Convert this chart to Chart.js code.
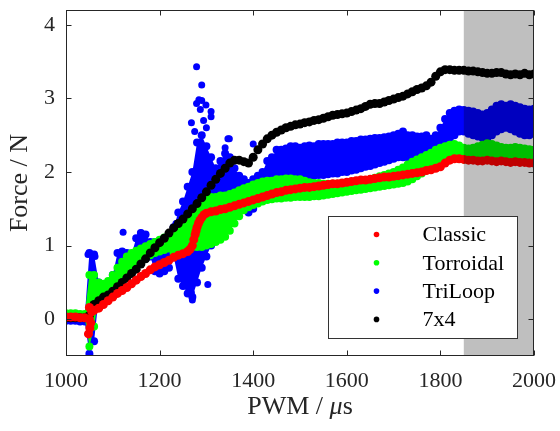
<!DOCTYPE html>
<html>
<head>
<meta charset="utf-8">
<script src="https://cdn.jsdelivr.net/npm/chart.js"></script>
<style>
  body { margin: 0; background: #fff; }
  canvas { display: block; }
</style>
</head>
<body>
<canvas id="forceChart" width="560" height="431"></canvas>
<script>
// PWM sample positions (µs)
const pwm = [
  1000,1010,1020,1030,1040,1050,1060,1070,1080,1090,
  1100,1110,1120,1130,1140,1150,1160,1170,1180,1190,
  1200,1210,1220,1230,1240,1250,1260,1270,1280,1290,
  1300,1310,1320,1330,1340,1350,1360,1370,1380,1390,
  1400,1410,1420,1430,1440,1450,1460,1470,1480,1490,
  1500,1510,1520,1530,1540,1550,1560,1570,1580,1590,
  1600,1610,1620,1630,1640,1650,1660,1670,1680,1690,
  1700,1710,1720,1730,1740,1750,1760,1770,1780,1790,
  1800,1810,1820,1830,1840,1850,1860,1870,1880,1890,
  1900,1910,1920,1930,1940,1950,1960,1970,1980,1990,
  2000
];

const classic = [
  0.03,0.03,0.03,0.02,0.02,0.00,0.12,0.15,0.20,0.25,
  0.30,0.35,0.39,0.43,0.48,0.53,0.58,0.62,0.67,0.71,
  0.74,0.77,0.80,0.84,0.87,0.89,0.92,1.00,1.25,1.38,
  1.44,1.46,1.47,1.49,1.50,1.52,1.54,1.56,1.58,1.60,
  1.62,1.64,1.66,1.68,1.70,1.72,1.73,1.75,1.76,1.77,
  1.78,1.79,1.79,1.80,1.81,1.82,1.83,1.84,1.84,1.85,
  1.86,1.87,1.88,1.89,1.89,1.90,1.91,1.92,1.93,1.93,
  1.94,1.95,1.96,1.97,1.98,1.99,2.00,2.02,2.03,2.05,
  2.07,2.12,2.16,2.18,2.18,2.17,2.16,2.16,2.15,2.15,
  2.16,2.15,2.14,2.15,2.14,2.13,2.14,2.13,2.13,2.12,
  2.12
];
const classicExtra = [
  [1048,-0.2],[1051,-0.12],[1050,0.16],[1055,0.1],[1053,-0.05],
  [1265,0.95],[1273,1.08],[1276,1.15],[1278,1.2],[1283,1.3],[1286,1.34],[1295,1.42]
];

const sevenByFour = [
  0.02,0.02,0.02,0.02,0.02,0.05,0.20,0.25,0.30,0.33,
  0.38,0.44,0.50,0.56,0.62,0.68,0.75,0.82,0.90,0.97,
  1.04,1.10,1.17,1.24,1.30,1.36,1.43,1.50,1.57,1.65,
  1.73,1.82,1.90,1.98,2.05,2.12,2.16,2.16,2.14,2.12,
  2.20,2.30,2.38,2.45,2.50,2.54,2.57,2.60,2.62,2.64,
  2.65,2.67,2.68,2.70,2.71,2.73,2.75,2.77,2.78,2.79,
  2.80,2.82,2.84,2.86,2.89,2.92,2.93,2.93,2.95,2.97,
  2.99,3.01,3.03,3.06,3.09,3.12,3.14,3.17,3.22,3.30,
  3.36,3.39,3.39,3.38,3.38,3.38,3.37,3.37,3.36,3.35,
  3.34,3.34,3.35,3.35,3.33,3.32,3.33,3.32,3.34,3.32,
  3.33
];

const torroidalLow = [
  0.02,0.02,0.02,0.02,0.02,-0.37,-0.10,0.30,0.35,0.40,
  0.45,0.52,0.60,0.66,0.72,0.77,0.80,0.84,0.87,0.90,
  0.92,0.94,0.96,0.90,0.90,0.92,0.95,0.98,0.98,0.98,
  1.00,1.02,1.05,1.08,1.12,1.20,1.30,1.40,1.48,1.52,
  1.55,1.57,1.60,1.62,1.63,1.64,1.64,1.65,1.65,1.66,
  1.66,1.66,1.66,1.67,1.67,1.68,1.69,1.70,1.71,1.72,
  1.73,1.74,1.75,1.76,1.77,1.78,1.79,1.80,1.81,1.82,
  1.83,1.84,1.85,1.87,1.90,1.94,1.98,2.02,2.06,2.10,
  2.14,2.17,2.20,2.20,2.18,2.17,2.19,2.20,2.21,2.22,
  2.23,2.22,2.21,2.20,2.20,2.19,2.20,2.19,2.19,2.18,
  2.18
];
const torroidalHigh = [
  0.08,0.08,0.08,0.07,0.07,0.60,0.60,0.50,0.48,0.52,
  0.60,0.70,0.78,0.85,0.90,0.93,0.96,0.99,1.02,1.05,
  1.08,1.11,1.15,1.20,1.26,1.30,1.35,1.45,1.55,1.62,
  1.65,1.66,1.66,1.68,1.68,1.70,1.72,1.75,1.78,1.80,
  1.83,1.85,1.87,1.88,1.88,1.90,1.90,1.91,1.91,1.90,
  1.90,1.88,1.86,1.85,1.85,1.84,1.84,1.84,1.84,1.85,
  1.85,1.86,1.87,1.88,1.89,1.90,1.92,1.94,1.96,1.98,
  2.00,2.03,2.06,2.10,2.14,2.17,2.20,2.23,2.26,2.30,
  2.33,2.35,2.37,2.38,2.36,2.33,2.32,2.33,2.35,2.37,
  2.39,2.38,2.36,2.34,2.33,2.33,2.34,2.33,2.32,2.31,
  2.30
];

const triLoopLow = [
  -0.02,-0.02,-0.02,-0.03,-0.03,-0.47,-0.30,0.30,0.30,0.35,
  0.40,0.50,0.55,0.60,0.62,0.75,0.78,0.82,0.85,0.65,
  0.62,0.65,0.70,0.85,0.55,0.45,0.35,0.30,0.50,0.70,
  0.85,1.00,1.10,1.20,1.35,1.50,1.55,1.50,1.50,1.45,
  1.50,1.60,1.75,1.85,1.90,1.90,1.92,1.92,1.93,1.93,
  1.94,1.95,1.95,1.95,1.96,1.96,1.97,1.98,1.98,2.00,
  2.00,2.02,2.03,2.05,2.07,2.08,2.10,2.12,2.14,2.16,
  2.18,2.20,2.20,2.20,2.20,2.22,2.24,2.25,2.20,2.22,
  2.35,2.40,2.45,2.50,2.55,2.55,2.52,2.50,2.48,2.46,
  2.45,2.50,2.55,2.58,2.60,2.58,2.55,2.52,2.50,2.50,
  2.52
];
const triLoopHigh = [
  0.04,0.04,0.04,0.03,0.03,0.90,0.88,0.50,0.45,0.50,
  0.60,0.90,0.92,0.90,0.88,1.10,1.17,1.15,1.05,1.05,
  1.05,1.10,1.15,1.25,1.45,1.60,1.80,2.00,2.40,2.50,
  2.35,2.20,2.05,2.15,2.25,2.20,2.05,1.95,1.90,1.85,
  1.90,1.95,2.00,2.15,2.20,2.30,2.30,2.32,2.35,2.35,
  2.33,2.35,2.36,2.35,2.38,2.38,2.38,2.38,2.40,2.40,
  2.40,2.42,2.42,2.44,2.44,2.45,2.46,2.46,2.47,2.48,
  2.50,2.52,2.55,2.50,2.50,2.48,2.48,2.50,2.45,2.50,
  2.60,2.72,2.80,2.83,2.85,2.84,2.83,2.82,2.80,2.78,
  2.80,2.85,2.90,2.92,2.90,2.92,2.90,2.88,2.86,2.85,
  2.86
];
// scattered TriLoop readings outside the main band
const triLoopScatter = [
  [1279,3.43],[1290,3.18],[1279,2.93],[1284,2.98],[1290,2.97],[1299,2.91],
  [1310,2.82],[1268,2.67],[1310,2.75],[1287,2.85],[1294,2.70],[1275,2.55],
  [1300,2.60],[1349,2.45],[1340,2.33],[1346,2.45],[1400,2.38],[1270,0.26],
  [1268,0.36],[1250,0.70],[1260,0.47],[1303,0.47],[1047,0.88],[1062,0.85],
  [1160,1.17],[1168,1.13],[1122,1.18],[1235,1.3]
];

const seriesNames = ['Classic', 'Torroidal', 'TriLoop', '7x4'];
const seriesColors = ['#ff0000', '#00ff00', '#0000ff', '#000000'];
const xTicks = [1000, 1200, 1400, 1600, 1800, 2000];
const yTicks = [0, 1, 2, 3, 4];
const shadedRange = [1850, 2000];

const serif = "'Liberation Serif', 'Times New Roman', serif";
const ink = '#262626';

function pts(xs, ys) {
  return xs.map((x, i) => ({ x: x, y: ys[i] }));
}
function pairs(list) {
  return list.map(p => ({ x: p[0], y: p[1] }));
}
function dots(label, data, color, r, order) {
  return { label: label, data: data, showLine: false, pointRadius: r, pointBorderWidth: 0,
           backgroundColor: color, borderColor: color, order: order };
}
function band(label, data, color, r, order) {
  const d = dots(label, data, color, r, order);
  d.showLine = true;
  d.borderWidth = 0;
  d.fill = '-1';
  return d;
}

const chartDecor = {
  id: 'chartDecor',
  afterDatasetsDraw(chart) {
    const { ctx, chartArea: a, scales: { x, y } } = chart;
    ctx.save();

    // shaded band on top of the data
    const s0 = x.getPixelForValue(shadedRange[0]);
    const s1 = x.getPixelForValue(shadedRange[1]);
    ctx.fillStyle = 'rgba(0,0,0,0.25)';
    ctx.fillRect(s0, a.top, s1 - s0, a.bottom - a.top);

    // box + inward ticks
    ctx.strokeStyle = ink;
    ctx.lineWidth = 1;
    const L = Math.round(a.left) + 0.5, R = Math.round(a.right) - 0.5;
    const T = Math.round(a.top) + 0.5, B = Math.round(a.bottom) - 0.5;
    ctx.strokeRect(L, T, R - L, B - T);
    ctx.beginPath();
    xTicks.forEach(v => {
      const px = Math.round(x.getPixelForValue(v)) + 0.5;
      ctx.moveTo(px, B); ctx.lineTo(px, B - 5);
      ctx.moveTo(px, T); ctx.lineTo(px, T + 5);
    });
    yTicks.forEach(v => {
      const py = Math.round(y.getPixelForValue(v)) + 0.5;
      ctx.moveTo(L, py); ctx.lineTo(L + 5, py);
      ctx.moveTo(R, py); ctx.lineTo(R - 5, py);
    });
    ctx.stroke();

    // x title with italic mu
    const parts = [['PWM / ', ''], ['\u03bc', 'italic '], ['s', '']];
    let total = 0;
    parts.forEach(p => { ctx.font = p[1] + '26px ' + serif; total += ctx.measureText(p[0]).width; });
    let tx = (a.left + a.right) / 2 - total / 2;
    ctx.fillStyle = ink;
    ctx.textBaseline = 'alphabetic';
    ctx.textAlign = 'left';
    parts.forEach(p => {
      ctx.font = p[1] + '26px ' + serif;
      ctx.fillText(p[0], tx, 414);
      tx += ctx.measureText(p[0]).width;
    });

    // legend box
    const bw = 189, bh = 122;
    const bx = Math.round(a.right - 17 - bw) + 0.5;
    const by = Math.round(a.bottom - 18 - bh) + 0.5;
    ctx.fillStyle = '#fff';
    ctx.fillRect(bx, by, bw, bh);
    ctx.strokeStyle = '#333';
    ctx.strokeRect(bx, by, bw, bh);
    ctx.font = '22px ' + serif;
    ctx.textBaseline = 'middle';
    seriesNames.forEach((name, i) => {
      const cy = by + 18 + i * 28.3;
      ctx.fillStyle = seriesColors[i];
      ctx.beginPath();
      ctx.arc(bx + 48, cy, 2.8, 0, Math.PI * 2);
      ctx.fill();
      ctx.fillStyle = '#000';
      ctx.fillText(name, bx + 94, cy + 1);
    });
    ctx.restore();
  }
};

const ctx = document.getElementById('forceChart').getContext('2d');
new Chart(ctx, {
  type: 'line',
  data: {
    datasets: [
      dots('Classic', pts(pwm, classic).concat(pairs(classicExtra)), '#ff0000', 4.5, 0),
      dots('7x4', pts(pwm, sevenByFour), '#000000', 4.5, 1),
      dots('Torroidal', pts(pwm, torroidalLow), '#00ff00', 4, 2),
      band('Torroidal', pts(pwm, torroidalHigh), '#00ff00', 4, 2),
      dots('TriLoop', pts(pwm, triLoopLow), '#0000ff', 4, 3),
      band('TriLoop', pts(pwm, triLoopHigh), '#0000ff', 4, 3),
      dots('TriLoop', pairs(triLoopScatter), '#0000ff', 3.5, 3)
    ]
  },
  options: {
    responsive: false,
    animation: false,
    devicePixelRatio: 1,
    events: [],
    layout: { padding: { left: 0, top: 10, right: 26, bottom: 0 } },
    plugins: { legend: { display: false }, tooltip: { enabled: false } },
    scales: {
      x: {
        type: 'linear', min: 1000, max: 2000,
        grid: { display: false, drawTicks: false },
        border: { display: false },
        afterBuildTicks: s => { s.ticks = xTicks.map(v => ({ value: v })); },
        afterFit: s => { s.height = 75; s.paddingLeft = 0; s.paddingRight = 0; },
        ticks: { font: { family: serif, size: 22 }, color: ink, padding: 12,
                 maxRotation: 0, autoSkip: false, callback: v => String(v) }
      },
      y: {
        type: 'linear', min: -0.5, max: 4.2,
        grid: { display: false, drawTicks: false },
        border: { display: false },
        afterBuildTicks: s => { s.ticks = yTicks.map(v => ({ value: v })); },
        afterFit: s => { s.width = 66; s.paddingTop = 0; s.paddingBottom = 0; },
        ticks: { font: { family: serif, size: 22 }, color: ink, padding: 11,
                 callback: v => String(v) },
        title: { display: true, text: 'Force / N', color: ink,
                 font: { family: serif, size: 26 }, padding: { top: 5, bottom: 0 } }
      }
    }
  },
  plugins: [chartDecor]
});
</script>
</body>
</html>
